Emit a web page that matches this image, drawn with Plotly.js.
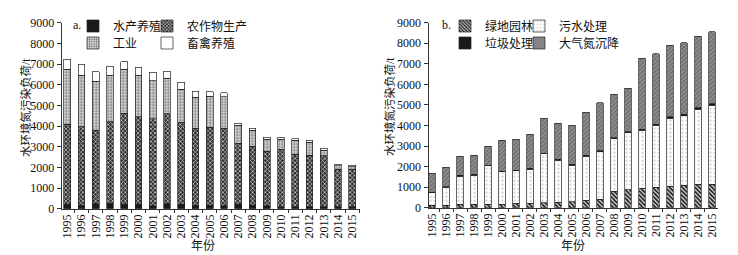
<!DOCTYPE html>
<html><head><meta charset="utf-8">
<script src="https://cdn.plot.ly/plotly-3.0.1.min.js"></script>
<style>html,body{margin:0;padding:0;background:#fff}#chart{width:738px;height:255px}</style>
</head><body><div id="chart"></div>
<script>
const years = ['1995','1996','1997','1998','1999','2000','2001','2002','2003','2004','2005','2006','2007','2008','2009','2010','2011','2012','2013','2014','2015'];
const yTicks = [0,1000,2000,3000,4000,5000,6000,7000,8000,9000];

// panel a
const aquaculture = [210,180,240,260,230,210,145,240,230,180,180,145,210,160,145,110,110,110,110,110,110];
const cropProduction = [3890,3790,3570,3950,4400,4230,4200,4360,3950,3720,3770,3750,2970,2870,2650,2780,2520,2490,2450,1810,1810];
const industry = [2640,2500,2370,2260,2110,2010,1840,1710,1610,1500,1490,1530,870,760,560,480,690,630,280,160,110];
const livestock = [500,510,450,420,360,400,420,350,340,290,220,190,80,100,100,80,80,80,80,70,70];

// panel b
const greenland = [130,130,160,160,160,160,210,210,230,260,290,370,420,810,880,940,990,1040,1090,1130,1150];
const sewage = [600,870,1380,1430,1870,1580,1580,1670,2390,2050,1780,2140,2300,2540,2770,2830,3010,3320,3390,3660,3830];
const garbage = [30,30,30,30,30,30,30,30,40,40,40,50,50,50,50,50,60,60,60,70,80];
const atmosphere = [910,930,940,920,920,1500,1500,1670,1680,1770,1910,2080,2340,2110,2100,3440,3440,3490,3480,3470,3500];

const CJK = 'Liberation Serif, Noto Sans CJK SC, serif';
const SERIF = 'Liberation Serif, DejaVu Serif, serif';
const W = 738, H = 255;
const px = v => v / W;
const py = v => (H - v) / H;
const edge = {color: '#222', width: 0.7};

function bar(name, y, xa, ya, leg, pattern, color) {
  return {type: 'bar', name: name, x: years, y: y, xaxis: xa, yaxis: ya, legend: leg,
    marker: {color: color, line: edge, pattern: pattern}, hoverinfo: 'skip'};
}

const traces = [
  bar('水产养殖', aquaculture, 'x', 'y', 'legend', {shape: ''}, '#1a1a1a'),
  bar('农作物生产', cropProduction, 'x', 'y', 'legend2', {shape: 'x', fgcolor: '#c8c8c8', bgcolor: '#2e2e2e', size: 3, solidity: 0.45, fillmode: 'replace'}, '#2e2e2e'),
  bar('工业', industry, 'x', 'y', 'legend3', {shape: '.', fgcolor: '#777', bgcolor: '#e6e6e6', size: 3, solidity: 0.45, fillmode: 'replace'}, '#e6e6e6'),
  bar('畜禽养殖', livestock, 'x', 'y', 'legend4', {shape: ''}, '#ffffff'),
  bar('绿地园林', greenland, 'x2', 'y2', 'legend5', {shape: '\\', fgcolor: '#222', bgcolor: '#e8e8e8', size: 3, solidity: 0.6, fillmode: 'replace'}, '#e8e8e8'),
  bar('污水处理', sewage, 'x2', 'y2', 'legend6', {shape: '.', fgcolor: '#c4c4c4', bgcolor: '#ffffff', size: 4, solidity: 0.2, fillmode: 'replace'}, '#ffffff'),
  bar('垃圾处理', garbage, 'x2', 'y2', 'legend7', {shape: ''}, '#1a1a1a'),
  bar('大气氮沉降', atmosphere, 'x2', 'y2', 'legend8', {shape: '/', fgcolor: '#5e5e5e', bgcolor: '#8e8e8e', size: 3, solidity: 0.3, fillmode: 'replace'}, '#8e8e8e')
];

function xAxis(domain, range, anchor) {
  return {domain: domain, range: range, anchor: anchor, type: 'category', tickangle: -90,
    tickmode: 'array', tickvals: years, ticktext: years,
    showline: true, linecolor: '#333', linewidth: 1, showgrid: false, zeroline: false,
    ticks: 'outside', tickson: 'boundaries', ticklen: 3, tickcolor: '#333',
    tickfont: {family: SERIF, size: 12, color: '#111'}, fixedrange: true};
}
function yAxis(domain, anchor) {
  return {domain: domain, range: [0, 9000], anchor: anchor, tickmode: 'array', tickvals: yTicks, ticktext: yTicks.map(String),
    showline: true, linecolor: '#333', linewidth: 1, showgrid: false, zeroline: false,
    ticks: 'outside', ticklen: 4, tickcolor: '#333',
    tickfont: {family: SERIF, size: 12, color: '#111'}, fixedrange: true};
}
function leg(xp, yp) {
  return {x: px(xp), y: py(yp), xanchor: 'left', yanchor: 'middle', bgcolor: 'rgba(0,0,0,0)',
    borderwidth: 0, font: {family: CJK, size: 12, color: '#111'}, itemclick: false, itemdoubleclick: false};
}

const layout = {
  width: W, height: H, margin: {l: 0, r: 0, t: 0, b: 0},
  paper_bgcolor: '#fff', plot_bgcolor: 'rgba(0,0,0,0)',
  barmode: 'stack', bargap: 0.52, showlegend: true,
  xaxis: xAxis([px(61.7), px(360)], [-0.39, 20.54], 'y'),
  yaxis: yAxis([py(208.8), py(22.7)], 'x'),
  xaxis2: xAxis([px(428.5), px(718)], [-0.25, 20.43], 'y2'),
  yaxis2: yAxis([py(207.7), py(22.7)], 'x2'),
  legend: leg(73, 26), legend2: leg(147, 26), legend3: leg(73, 43), legend4: leg(147, 43),
  legend5: leg(445, 26), legend6: leg(519, 26), legend7: leg(445, 43), legend8: leg(519, 43),
  annotations: [
    {text: 'a.', x: px(71), y: py(25), xref: 'paper', yref: 'paper', xanchor: 'left', yanchor: 'middle', showarrow: false, font: {family: SERIF, size: 12, color: '#111'}},
    {text: 'b.', x: px(440), y: py(25), xref: 'paper', yref: 'paper', xanchor: 'left', yanchor: 'middle', showarrow: false, font: {family: SERIF, size: 12, color: '#111'}},
    {text: '水环境氮污染负荷/t', x: px(26), y: py(107), xref: 'paper', yref: 'paper', textangle: -90, xanchor: 'center', yanchor: 'middle', showarrow: false, font: {family: CJK, size: 11.5, color: '#111'}},
    {text: '水环境氮污染负荷/t', x: px(390), y: py(107), xref: 'paper', yref: 'paper', textangle: -90, xanchor: 'center', yanchor: 'middle', showarrow: false, font: {family: CJK, size: 11.5, color: '#111'}},
    {text: '年份', x: px(203), y: py(246), xref: 'paper', yref: 'paper', xanchor: 'center', yanchor: 'middle', showarrow: false, font: {family: CJK, size: 12, color: '#111'}},
    {text: '年份', x: px(573), y: py(246), xref: 'paper', yref: 'paper', xanchor: 'center', yanchor: 'middle', showarrow: false, font: {family: CJK, size: 12, color: '#111'}}
  ]
};

Plotly.newPlot('chart', traces, layout, {staticPlot: true, displayModeBar: false});
</script></body></html>
